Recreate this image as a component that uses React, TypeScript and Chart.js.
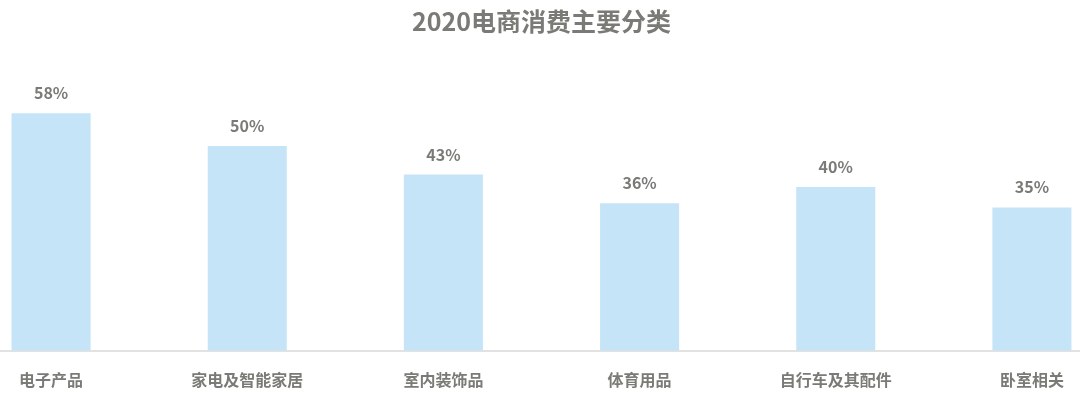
import React, { useEffect, useRef } from "react";
import { Chart, registerables } from "chart.js";

Chart.register(...registerables);

const categories = ["电子产品", "家电及智能家居", "室内装饰品", "体育用品", "自行车及其配件", "卧室相关"];
const values = [58, 50, 43, 36, 40, 35];
const titleText = "2020电商消费主要分类";

const FONT = "'Noto Sans CJK SC', 'Noto Sans', sans-serif";
const GRAY = "#7a7a76";

const valueLabels = {
  id: "valueLabels",
  afterDatasetsDraw(chart: any) {
    const ctx = chart.ctx;
    const meta = chart.getDatasetMeta(0);
    ctx.save();
    ctx.font = `bold 16px ${FONT}`;
    ctx.fillStyle = GRAY;
    ctx.textAlign = "center";
    ctx.textBaseline = "middle";
    meta.data.forEach((bar: any, i: number) => {
      ctx.fillText(`${values[i]}%`, bar.x, bar.y - 20);
    });
    ctx.restore();
  },
};

export default function App() {
  const ref = useRef<HTMLCanvasElement>(null);
  useEffect(() => {
    if (!ref.current) return;
    const chart = new Chart(ref.current, {
      type: "bar",
      data: {
        labels: categories,
        datasets: [
          {
            data: values,
            backgroundColor: "#c6e4f8",
            borderWidth: 0,
            categoryPercentage: 1,
            barPercentage: 0.403,
          },
        ],
      },
      options: {
        animation: false,
        responsive: true,
        maintainAspectRatio: false,
        layout: { padding: { left: 0, right: 0, top: 0, bottom: -10 } },
        plugins: {
          legend: { display: false },
          tooltip: { enabled: false },
          title: {
            display: true,
            text: titleText,
            color: GRAY,
            font: { family: FONT, size: 25, weight: "bold" },
            padding: { top: 6, bottom: 28 },
          },
        },
        scales: {
          x: {
            grid: { display: false, drawTicks: false },
            border: { display: true, color: "#e2e2e2", width: 2 },
            ticks: {
              color: GRAY,
              padding: 20,
              font: { family: FONT, size: 16, weight: "bold" },
              maxRotation: 0,
              autoSkip: false,
            },
          },
          y: {
            display: false,
            min: 0,
            max: 70,
          },
        },
      },
      plugins: [valueLabels],
    });
    return () => chart.destroy();
  }, []);

  return (
    <div style={{ position: "fixed", left: 0, top: 0, width: 1080, height: 400, overflow: "hidden", background: "#fff" }}>
      <div style={{ position: "absolute", left: -47, top: 0, width: 1177, height: 400 }}>
        <canvas ref={ref} />
      </div>
    </div>
  );
}
